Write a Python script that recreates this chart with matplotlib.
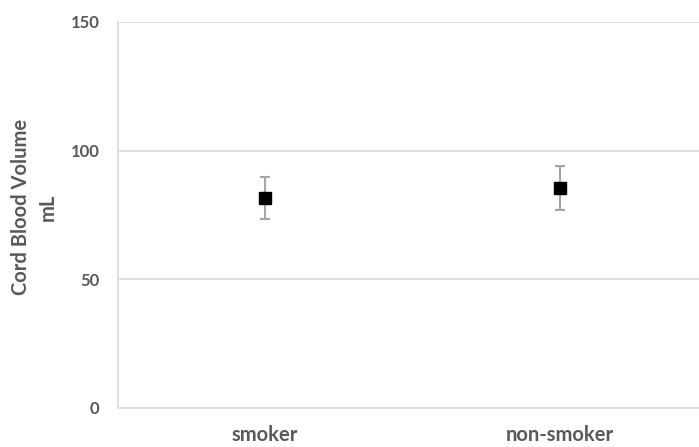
import matplotlib
matplotlib.use('Agg')
import matplotlib.pyplot as plt

groups = ['smoker', 'non-smoker']
means = [81.5, 85.4]
errs = [8.2, 8.5]
yticks = [0, 50, 100, 150]

plt.rcParams['font.family'] = ['Lato', 'DejaVu Sans']
txt = '#595959'
grid = '#d9d9d9'

fig = plt.figure(figsize=(6.99, 4.47), dpi=100)
# axes deliberately runs past the right edge, like the original
ax = fig.add_axes([117.5 / 699, 1 - 408 / 447, 590 / 699, 386 / 447])

x = list(range(len(groups)))
ax.errorbar(x, means, yerr=errs, fmt='s', color='black', markersize=9,
            ecolor='#a6a6a6', elinewidth=1.5, capsize=3.5, capthick=1.5, zorder=3)

ax.set_xlim(-0.5, 1.5)
ax.set_ylim(0, 150)
ax.set_yticks(yticks)
ax.set_xticks(x)
ax.set_xticklabels(groups)
ax.yaxis.grid(True, color=grid, linewidth=1.2)
ax.set_axisbelow(True)

for s in ['top', 'right']:
    ax.spines[s].set_visible(False)
ax.spines['left'].set_color(grid)
ax.spines['bottom'].set_color(grid)
ax.spines['left'].set_linewidth(1.2)
ax.spines['bottom'].set_linewidth(1.2)

ax.tick_params(axis='both', length=0, colors=txt)
ax.tick_params(axis='y', pad=13, labelsize=12)
ax.tick_params(axis='x', pad=12, labelsize=14.5)
for lb in ax.get_xticklabels() + ax.get_yticklabels():
    lb.set_fontweight('bold')

ax.set_ylabel('Cord Blood Volume\nmL', color=txt, fontsize=14.5, fontweight='bold',
              linespacing=1.45)
ax.yaxis.set_label_coords(-0.101, 0.52)

fig.savefig('out.png', dpi=100)
